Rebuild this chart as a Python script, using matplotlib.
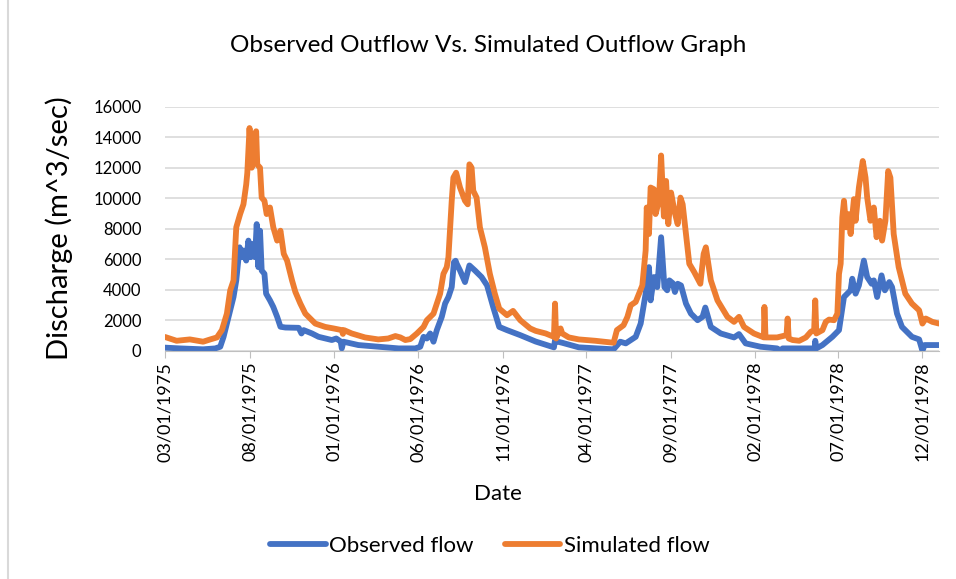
import matplotlib
matplotlib.use('Agg')
import matplotlib.pyplot as plt
import pandas as pd

plt.rcParams['font.family'] = ['Lato', 'DejaVu Sans']

# record starts 03/01/1975, days counted from there
start_date = '1975-03-01'
end_date = '1978-12-31'

obs_days = [0, 27, 69, 91, 100, 106, 112, 118, 124, 129,
            135, 139, 142, 147, 151, 155, 159, 163, 166, 169,
            172, 175, 180, 183, 190, 196, 203, 209, 218, 242,
            247, 251, 266, 278, 302, 310, 318, 320, 323, 350,
            386, 423, 453, 462, 468, 474, 480, 486, 492, 501,
            507, 513, 519, 523, 526, 528, 534, 543, 551, 561,
            573, 583, 594, 605, 619, 643, 671, 704, 706, 710,
            719, 749, 812, 824, 834, 852, 861, 870, 876, 879,
            885, 891, 898, 904, 909, 913, 919, 923, 928, 934,
            943, 952, 964, 973, 978, 988, 1006, 1030, 1039, 1051,
            1078, 1108, 1114, 1118, 1148, 1176, 1177, 1179, 1190, 1208,
            1220, 1229, 1235, 1241, 1244, 1250, 1256, 1265, 1271, 1279,
            1283, 1289, 1297, 1303, 1311, 1316, 1325, 1334, 1352, 1365,
            1371, 1375, 1401]
obs_flow = [200, 150, 90, 150, 260, 910, 1780, 2650, 3520, 4610,
            6780, 6130, 6570, 5910, 7220, 6130, 7000, 6130, 8300, 5480,
            7870, 5260, 5040, 3740, 3300, 2870, 2220, 1570, 1520, 1500,
            1130, 1350, 1130, 910, 700, 800, 600, 150, 590, 370,
            260, 150, 150, 260, 910, 800, 1130, 590, 1350, 2220,
            3090, 3520, 4170, 5800, 5900, 5700, 5260, 4500, 5590, 5260,
            4830, 4280, 2870, 1560, 1350, 1020, 600, 220, 700, 600,
            520, 220, 90, 590, 480, 910, 1780, 3740, 5480, 3300,
            4830, 4170, 7440, 4170, 3960, 4610, 4430, 3850, 4390, 4280,
            3090, 2430, 2000, 2220, 2830, 1560, 1130, 870, 1090, 480,
            260, 150, 0, 150, 150, 150, 650, 150, 370, 910,
            1350, 3520, 3740, 3960, 4720, 3740, 4280, 5910, 4830, 4390,
            4610, 3520, 4940, 3960, 4500, 4170, 2430, 1560, 910, 740,
            0, 370, 370]

sim_days = [0, 21, 45, 69, 82, 94, 103, 112, 118, 124,
            129, 136, 142, 147, 149, 153, 157, 160, 165, 167,
            172, 175, 180, 184, 190, 196, 203, 209, 215, 221,
            230, 236, 245, 254, 272, 290, 305, 320, 322, 324,
            338, 362, 386, 404, 417, 426, 435, 444, 456, 468,
            474, 480, 486, 492, 498, 504, 510, 513, 519, 522,
            527, 534, 543, 548, 551, 555, 558, 564, 570, 579,
            588, 597, 605, 619, 630, 643, 661, 671, 689, 704,
            706, 708, 716, 719, 731, 749, 779, 812, 818, 830,
            837, 843, 852, 858, 864, 870, 872, 876, 879, 885,
            888, 894, 898, 903, 907, 911, 916, 922, 928, 933,
            937, 943, 949, 958, 969, 975, 979, 988, 1000, 1018,
            1030, 1039, 1048, 1066, 1084, 1085, 1087, 1108, 1125, 1127,
            1129, 1136, 1148, 1160, 1169, 1175, 1177, 1179, 1190, 1196,
            1202, 1211, 1217, 1220, 1223, 1226, 1229, 1233, 1237, 1241,
            1247, 1250, 1256, 1263, 1268, 1271, 1277, 1283, 1288, 1294,
            1298, 1304, 1309, 1313, 1319, 1328, 1340, 1352, 1365, 1371,
            1377, 1389, 1401]
sim_flow = [900, 650, 740, 590, 740, 870, 1350, 2430, 3950, 4600,
            8090, 8960, 9600, 10900, 11670, 14600, 12000, 13960, 14390, 12200,
            12000, 10040, 9830, 8960, 9390, 8090, 7220, 7870, 6350, 5900,
            4600, 3850, 3090, 2430, 1780, 1560, 1460, 1350, 1100, 1350,
            1130, 870, 740, 800, 960, 870, 700, 760, 1130, 1560,
            2000, 2220, 2430, 3090, 3740, 5040, 5480, 6130, 9830, 11350,
            11670, 10700, 9830, 9600, 12220, 12000, 10480, 10040, 8090, 6780,
            5040, 3740, 2760, 2330, 2610, 2000, 1460, 1300, 1130, 910,
            3090, 800, 1460, 1130, 870, 740, 650, 520, 1350, 1670,
            2220, 2980, 3200, 3740, 4280, 6570, 9390, 7650, 10700, 10590,
            8960, 9830, 12800, 8800, 11130, 8300, 10370, 9170, 8300, 10040,
            9600, 7650, 5700, 5150, 4390, 6350, 6780, 4610, 3300, 2220,
            1890, 2220, 1560, 1130, 870, 2870, 870, 870, 1020, 2110,
            800, 700, 650, 870, 1240, 1350, 3300, 1130, 1350, 1890,
            2040, 2000, 2430, 5040, 5700, 8740, 9830, 8090, 8960, 7650,
            9940, 8520, 10700, 12440, 11350, 10040, 8520, 9390, 7440, 8520,
            7220, 8520, 11780, 11350, 7650, 5480, 3740, 3090, 2650, 1780,
            2110, 1890, 1780]

tick_labels = ['03/01/1975', '08/01/1975', '01/01/1976', '06/01/1976',
               '11/01/1976', '04/01/1977', '09/01/1977', '02/01/1978',
               '07/01/1978', '12/01/1978']
y_ticks = [0, 2000, 4000, 6000, 8000, 10000, 12000, 14000, 16000]

t0 = pd.Timestamp(start_date)
obs_dates = t0 + pd.to_timedelta(obs_days, unit='D')
sim_dates = t0 + pd.to_timedelta(sim_days, unit='D')
tick_dates = pd.to_datetime(tick_labels, format='%m/%d/%Y')

blue = '#4472C4'
orange = '#ED7D31'
grid = '#D9D9D9'

W, H = 956, 579
fig = plt.figure(figsize=(W / 100, H / 100), dpi=100)
ax = fig.add_axes([165 / W, 1 - 350.7 / H, (939 - 165) / W, 244 / H])

ax.plot(obs_dates, obs_flow, color=blue, lw=4.2, solid_joinstyle='round',
        solid_capstyle='round', label='Observed flow')
ax.plot(sim_dates, sim_flow, color=orange, lw=4.2, solid_joinstyle='round',
        solid_capstyle='round', label='Simulated flow')

ax.set_xlim(t0, pd.Timestamp(end_date))
ax.set_ylim(0, 16000)
ax.set_yticks(y_ticks)
ax.set_yticklabels([str(v) for v in y_ticks], fontsize=12)
ax.set_xticks(tick_dates)
ax.set_xticklabels(tick_labels, rotation=90, fontsize=13)
ax.yaxis.grid(True, color=grid, lw=1.2)
ax.set_axisbelow(True)
for s in ['top', 'right', 'left']:
    ax.spines[s].set_visible(False)
ax.spines['bottom'].set_color('#BFBFBF')
ax.tick_params(axis='y', length=0, pad=17, colors='black')
ax.tick_params(axis='x', length=5, color='#BFBFBF', direction='out', pad=3)

fig.text(488 / W, 1 - 46 / H, 'Observed Outflow Vs. Simulated Outflow Graph',
         ha='center', va='center', fontsize=17.5)
fig.text(498 / W, 1 - 494 / H, 'Date', ha='center', va='center', fontsize=16)
fig.text(59 / W, 1 - 228 / H, 'Discharge (m^3/sec)', ha='center', va='center',
         rotation=90, fontsize=21)

fig.legend(loc='center', bbox_to_anchor=(490 / W, 1 - 546 / H), ncol=2,
           frameon=False, fontsize=16, handlelength=2.5, handletextpad=0.15,
           columnspacing=1.4)

# chart frame edge on the left
fig.add_artist(plt.Line2D([8 / W, 8 / W], [0, 1], color=grid, lw=1.5))

fig.savefig('out.png', dpi=100)
